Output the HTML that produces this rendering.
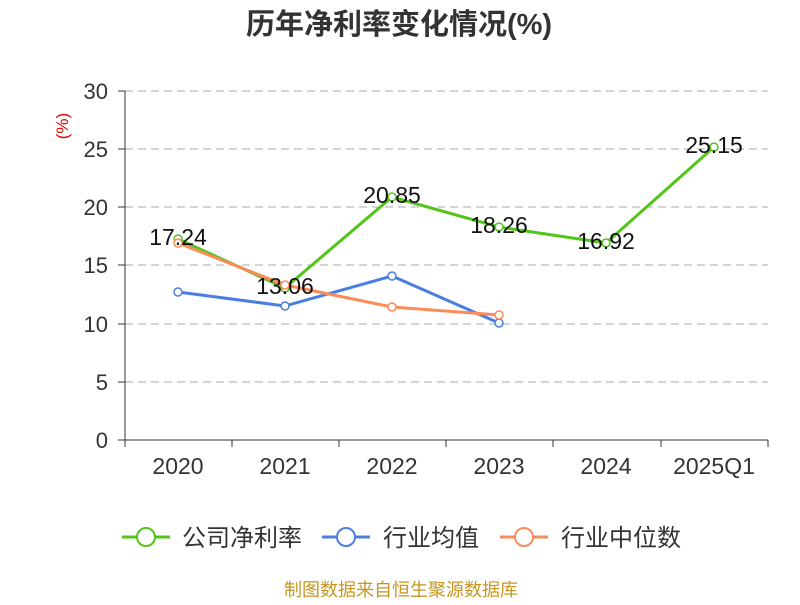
<!DOCTYPE html>
<html><head><meta charset="utf-8"><style>
body{margin:0;background:#fff;}
text{font-family:"Liberation Sans","Noto Sans CJK SC",sans-serif;}
</style></head><body>
<svg width="800" height="600" viewBox="0 0 800 600" xmlns="http://www.w3.org/2000/svg">
<text x="399" y="34" text-anchor="middle" font-size="29" font-weight="bold" fill="#333">历年净利率变化情况(%)</text>
<text x="68" y="126" font-size="17" fill="#e00000" transform="rotate(-90 68 126)" text-anchor="middle">(%)</text>
<g stroke="#bbb" stroke-dasharray="8,5" stroke-width="1.2">
<line x1="125" x2="768" y1="91" y2="91"/><line x1="125" x2="768" y1="149" y2="149"/>
<line x1="125" x2="768" y1="207" y2="207"/><line x1="125" x2="768" y1="265" y2="265"/>
<line x1="125" x2="768" y1="324" y2="324"/><line x1="125" x2="768" y1="382" y2="382"/>
</g>
<g stroke="#333" stroke-width="1">
<line x1="125" x2="125" y1="91" y2="440"/>
<line x1="118" x2="125" y1="91" y2="91"/><line x1="118" x2="125" y1="149" y2="149"/><line x1="118" x2="125" y1="207" y2="207"/><line x1="118" x2="125" y1="265" y2="265"/><line x1="118" x2="125" y1="324" y2="324"/><line x1="118" x2="125" y1="382" y2="382"/><line x1="118" x2="125" y1="440" y2="440"/>
<line x1="125" x2="768" y1="440" y2="440"/>
<line x1="125" x2="125" y1="440" y2="447"/><line x1="232" x2="232" y1="440" y2="447"/><line x1="339" x2="339" y1="440" y2="447"/><line x1="446" x2="446" y1="440" y2="447"/><line x1="553" x2="553" y1="440" y2="447"/><line x1="661" x2="661" y1="440" y2="447"/><line x1="768" x2="768" y1="440" y2="447"/>
</g>
<g font-size="22" fill="#333" text-anchor="end">
<text x="108" y="99">30</text><text x="108" y="157">25</text><text x="108" y="215">20</text><text x="108" y="273">15</text><text x="108" y="332">10</text><text x="108" y="390">5</text><text x="108" y="448">0</text>
</g>
<g font-size="23" fill="#333" text-anchor="middle">
<text x="178" y="474">2020</text><text x="285" y="474">2021</text><text x="392" y="474">2022</text><text x="499" y="474">2023</text><text x="606" y="474">2024</text><text x="714" y="474">2025Q1</text>
</g>
<g fill="none" stroke-width="3">
<polyline stroke="#52c41a" points="178,239 285,288 392,197 499,227 606,243 714,147"/>
<polyline stroke="#4a7fe0" points="178,292 285,306 392,276 499,323"/>
<polyline stroke="#fa8c5a" points="178,243 285,285 392,307 499,315"/>
</g>
<g fill="#fff" stroke-width="1.5">
<g stroke="#52c41a"><circle cx="178" cy="239" r="4"/><circle cx="285" cy="288" r="4"/><circle cx="392" cy="197" r="4"/><circle cx="499" cy="227" r="4"/><circle cx="606" cy="243" r="4"/><circle cx="714" cy="147" r="4"/></g>
<g stroke="#4a7fe0"><circle cx="178" cy="292" r="4"/><circle cx="285" cy="306" r="4"/><circle cx="392" cy="276" r="4"/><circle cx="499" cy="323" r="4"/></g>
<g stroke="#fa8c5a"><circle cx="178" cy="243" r="4"/><circle cx="285" cy="285" r="4"/><circle cx="392" cy="307" r="4"/><circle cx="499" cy="315" r="4"/></g>
</g>
<g font-size="23" fill="#111" text-anchor="middle">
<text x="178" y="245">17.24</text><text x="285" y="294">13.06</text><text x="392" y="203">20.85</text><text x="499" y="233">18.26</text><text x="606" y="249">16.92</text><text x="714" y="153">25.15</text>
</g>
<g font-size="24" fill="#333">
<line x1="122" x2="170" y1="537" y2="537" stroke="#52c41a" stroke-width="3"/><circle cx="146" cy="537" r="9" fill="#fff" stroke="#52c41a" stroke-width="2"/>
<text x="182" y="546">公司净利率</text>
<line x1="322" x2="370" y1="537" y2="537" stroke="#4a7fe0" stroke-width="3"/><circle cx="346" cy="537" r="9" fill="#fff" stroke="#4a7fe0" stroke-width="2"/>
<text x="383" y="546">行业均值</text>
<line x1="500" x2="548" y1="537" y2="537" stroke="#fa8c5a" stroke-width="3"/><circle cx="524" cy="537" r="9" fill="#fff" stroke="#fa8c5a" stroke-width="2"/>
<text x="561" y="546">行业中位数</text>
</g>
<text x="401" y="596" text-anchor="middle" font-size="18" fill="#c8961e">制图数据来自恒生聚源数据库</text>
</svg>
</body></html>
